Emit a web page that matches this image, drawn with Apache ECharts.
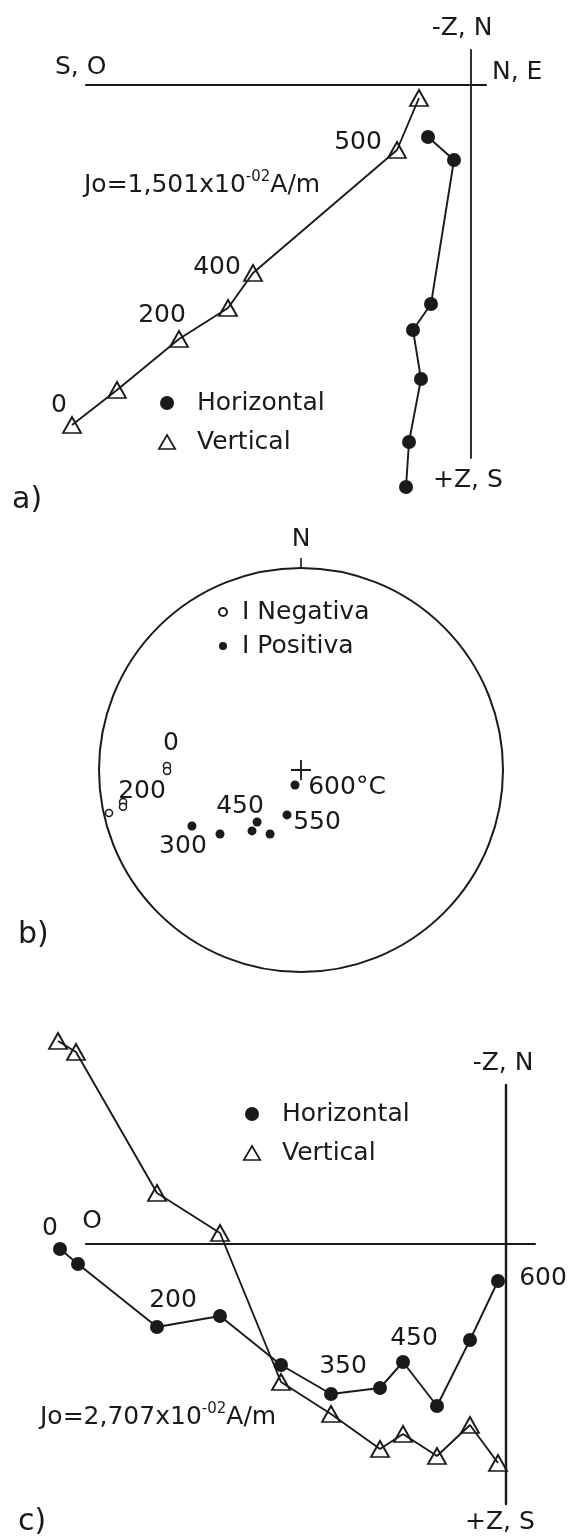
<!DOCTYPE html>
<html><head><meta charset="utf-8">
<script src="https://cdn.jsdelivr.net/npm/echarts@6/dist/echarts.min.js"></script>
<style>html,body{margin:0;padding:0;background:#fff}#c{width:576px;height:1536px}</style>
</head><body><div id="c"></div>
<script>
// ---------- Panel a (Zijderveld, arbitrary units) ----------
const aVertX = [-9.975, -8.85, -7.3, -6.075, -5.45, -1.85, -1.3];
const aVertY = [-8.5, -7.625, -6.35, -5.575, -4.7, -1.625, -0.325];
const aVertLabels = ['0', '', '200', '', '400', '500', ''];
const aHorX = [-1.625, -1.55, -1.25, -1.45, -1.0, -0.425, -1.075];
const aHorY = [-10.05, -8.925, -7.35, -6.125, -5.475, -1.875, -1.3];

// ---------- Panel b (stereonet: [radius, declination]) ----------
const bNegR = [0.664, 0.663, 0.895, 0.900, 0.974];
const bNegDec = [271.7, 269.6, 259.8, 258.3, 257.4];
const bNegLabels = ['0', '', '200', '', ''];
const bPosR = [0.607, 0.511, 0.387, 0.337, 0.352, 0.233, 0.080];
const bPosDec = [242.8, 231.7, 218.8, 220.2, 205.8, 197.3, 201.8];
const bPosLabels = ['300', '', '', '450', '', '550', '600°C'];

// ---------- Panel c (Zijderveld, arbitrary units) ----------
const cHorX = [-22.3, -21.4, -17.45, -14.3, -11.25, -8.75, -6.3, -5.15, -3.45, -1.8, -0.4];
const cHorY = [-0.25, -1.0, -4.15, -3.6, -6.05, -7.5, -7.2, -5.9, -8.1, -4.8, -1.85];
const cHorLabels = ['0', '', '200', '', '', '350', '', '450', '', '', '600'];
const cVertX = [-22.4, -21.5, -17.45, -14.3, -11.25, -8.75, -6.3, -5.15, -3.45, -1.8, -0.4];
const cVertY = [10.15, 9.6, 2.55, 0.55, -6.9, -8.5, -10.25, -9.5, -10.6, -9.05, -10.95];

// ---------- label placement (style, not data) ----------
const labelOffsets = {
  aV: {'0': [-13, -20], '200': [-17, -24], '400': [-36, -6], '500': [-39, -8]},
  cH: {'0': [-10, -21], '200': [16, -27], '350': [12, -28], '450': [11, -24], '600': [45, -3]},
  bN: {'0': [4, -23], '200': [19, -11]},
  bP: {'300': [-9, 20], '450': [-17, -15], '550': [30, 8], '600°C': [52, 2]}
};

const FONT = 'DejaVu Sans';
const INK = '#1a1a1a';

function withLabels(points, labels, offs) {
  return points.map((p, i) => {
    const l = labels ? labels[i] : '';
    if (!l) return {value: p};
    return {value: p, label: {show: true, formatter: l, offset: offs[l] || [0, 0]}};
  });
}
function zip(xs, ys) { return xs.map((x, i) => [x, ys[i]]); }

const baseLabel = {show: false, position: 'inside', fontFamily: FONT, fontSize: 25, color: INK, opacity: 1};
const lineStyle = {color: INK, width: 1.9};
const dotStyle = {color: INK, opacity: 1};
const triStyle = {color: 'rgba(255,255,255,0)', borderColor: INK, borderWidth: 1.8, opacity: 1};
const TRI = 'path://M0,12 L7,0 L14,12 Z';

const axisShown = {
  type: 'value',
  axisTick: {show: false}, axisLabel: {show: false}, splitLine: {show: false},
  axisLine: {show: true, onZero: true, lineStyle: {color: INK, width: 2.2}}
};
const axisHidden = {type: 'value', show: false, splitLine: {show: false}};

const texts = [
  {t: '-Z, N', x: 462, y: 28, a: 'center'},
  {t: 'S, O', x: 55, y: 67, a: 'left'},
  {t: 'N, E', x: 492, y: 72, a: 'left'},
  {t: '+Z, S', x: 433, y: 480, a: 'left'},
  {t: 'a)', x: 12, y: 500, a: 'left', s: 30},
  {t: '{m|Jo=1,501x10}{s|-02}{m|A/m}', x: 84, y: 185, a: 'left'},
  {t: 'b)', x: 18, y: 935, a: 'left', s: 30},
  {t: '-Z, N', x: 503, y: 1063, a: 'center'},
  {t: '+Z, S', x: 465, y: 1522, a: 'left'},
  {t: 'O', x: 92, y: 1221, a: 'center'},
  {t: 'c)', x: 18, y: 1522, a: 'left', s: 30},
  {t: '{m|Jo=2,707x10}{s|-02}{m|A/m}', x: 40, y: 1417, a: 'left'}
];

const graphic = texts.map(o => ({
  type: 'text', x: o.x, y: o.y, silent: true,
  style: {
    text: o.t, fill: INK, font: (o.s || 25) + 'px "' + FONT + '"',
    align: o.a, verticalAlign: 'middle', textAlign: o.a, textVerticalAlign: 'middle',
    rich: {
      m: {fontFamily: FONT, fontSize: 25, color: INK, lineHeight: 30},
      s: {fontFamily: FONT, fontSize: 15, color: INK, lineHeight: 30, verticalAlign: 'top'}
    }
  }
}));

const legendText = {fontFamily: FONT, fontSize: 25, color: INK, lineHeight: 25};

const option = {
  animation: false,
  backgroundColor: '#fff',
  grid: [
    // axis frames (origin a: 471,85 ; c: 506,1244)
    {left: 86, top: 50, width: 400, height: 408},
    {left: 86, top: 1085, width: 449, height: 419},
    // data areas with identical scales, wider so nothing is clipped
    {left: 40, top: 40, width: 480, height: 470},
    {left: 40, top: 1020, width: 500, height: 490}
  ],
  xAxis: [
    Object.assign({}, axisShown, {gridIndex: 0, min: -9.625, max: 0.375}),
    Object.assign({}, axisShown, {gridIndex: 1, min: -21, max: 1.45}),
    Object.assign({}, axisHidden, {gridIndex: 2, min: -10.775, max: 1.225}),
    Object.assign({}, axisHidden, {gridIndex: 3, min: -23.3, max: 1.7})
  ],
  yAxis: [
    Object.assign({}, axisShown, {gridIndex: 0, min: -9.325, max: 0.875,
      axisLine: {show: true, onZero: true, lineStyle: {color: INK, width: 1.8}}}),
    Object.assign({}, axisShown, {gridIndex: 1, min: -13.0, max: 7.95,
      axisLine: {show: true, onZero: true, lineStyle: {color: INK, width: 2.4}}}),
    Object.assign({}, axisHidden, {gridIndex: 2, min: -10.625, max: 1.125}),
    Object.assign({}, axisHidden, {gridIndex: 3, min: -13.3, max: 11.2})
  ],
  polar: {center: [301, 770], radius: 202},
  angleAxis: {
    type: 'value', min: 0, max: 360, interval: 360, startAngle: 90, clockwise: true,
    axisLine: {show: true, lineStyle: {color: INK, width: 2}},
    axisTick: {show: true, inside: false, length: 10, lineStyle: {color: INK, width: 1.6}},
    axisLabel: {show: true, margin: 16, fontFamily: FONT, fontSize: 25, color: INK,
      formatter: v => (v === 0 ? 'N' : '')},
    splitLine: {show: false}, splitArea: {show: false}
  },
  radiusAxis: {type: 'value', min: 0, max: 1, show: false,
    axisLine: {show: false}, axisLabel: {show: false}, axisTick: {show: false}, splitLine: {show: false}},
  legend: [
    {left: 158, top: 390.5, orient: 'vertical', padding: 0, itemGap: 14, itemWidth: 50, itemHeight: 14,
      textStyle: legendText, selectedMode: false, symbolKeepAspect: true,
      itemStyle: {borderWidth: 1.7},
      data: [{name: 'Horizontal', icon: 'circle'}, {name: 'Vertical', icon: TRI}]},
    {left: 218, top: 599.5, orient: 'vertical', padding: 0, itemGap: 9, itemWidth: 28, itemHeight: 8,
      textStyle: legendText, selectedMode: false,
      data: [{name: 'I Negativa', icon: 'circle'}, {name: 'I Positiva', icon: 'circle'}]},
    {left: 243, top: 1101.5, orient: 'vertical', padding: 0, itemGap: 14, itemWidth: 50, itemHeight: 14,
      textStyle: legendText, selectedMode: false, symbolKeepAspect: true,
      itemStyle: {borderWidth: 1.7},
      data: [{name: 'Horizontal', icon: 'circle'}, {name: 'Vertical', icon: TRI}]}
  ],
  series: [
    {name: 'Vertical', type: 'line', xAxisIndex: 2, yAxisIndex: 2, clip: false,
      data: withLabels(zip(aVertX, aVertY), aVertLabels, labelOffsets.aV),
      symbol: 'triangle', symbolSize: [18, 16], lineStyle, itemStyle: triStyle, label: baseLabel, z: 3},
    {name: 'Horizontal', type: 'line', xAxisIndex: 2, yAxisIndex: 2, clip: false,
      data: zip(aHorX, aHorY),
      symbol: 'circle', symbolSize: 14, lineStyle, itemStyle: dotStyle, label: baseLabel, z: 3},
    {name: 'Vertical', type: 'line', xAxisIndex: 3, yAxisIndex: 3, clip: false,
      data: zip(cVertX, cVertY),
      symbol: 'triangle', symbolSize: [18, 16], lineStyle, itemStyle: triStyle, label: baseLabel, z: 3},
    {name: 'Horizontal', type: 'line', xAxisIndex: 3, yAxisIndex: 3, clip: false,
      data: withLabels(zip(cHorX, cHorY), cHorLabels, labelOffsets.cH),
      symbol: 'circle', symbolSize: 14, lineStyle, itemStyle: dotStyle, label: baseLabel, z: 3},
    {name: 'I Negativa', type: 'scatter', coordinateSystem: 'polar', polarIndex: 0,
      data: withLabels(zip(bNegR, bNegDec), bNegLabels, labelOffsets.bN),
      symbol: 'circle', symbolSize: 7,
      itemStyle: {color: '#fff', borderColor: INK, borderWidth: 1.5, opacity: 1}, label: baseLabel},
    {name: 'I Positiva', type: 'scatter', coordinateSystem: 'polar', polarIndex: 0,
      data: withLabels(zip(bPosR, bPosDec), bPosLabels, labelOffsets.bP),
      symbol: 'circle', symbolSize: 9, itemStyle: {color: INK, opacity: 1}, label: baseLabel},
    {name: 'centro', type: 'scatter', coordinateSystem: 'polar', polarIndex: 0, silent: true,
      data: [[0, 0]], symbol: 'path://M0,9.1 H20 V10.9 H0 Z M9.1,0 H10.9 V20 H9.1 Z', symbolSize: 20,
      itemStyle: {color: INK, opacity: 1}}
  ],
  graphic: graphic
};

const chart = echarts.init(document.getElementById('c'), null, {renderer: 'canvas'});
chart.setOption(option);
</script>
</body></html>
